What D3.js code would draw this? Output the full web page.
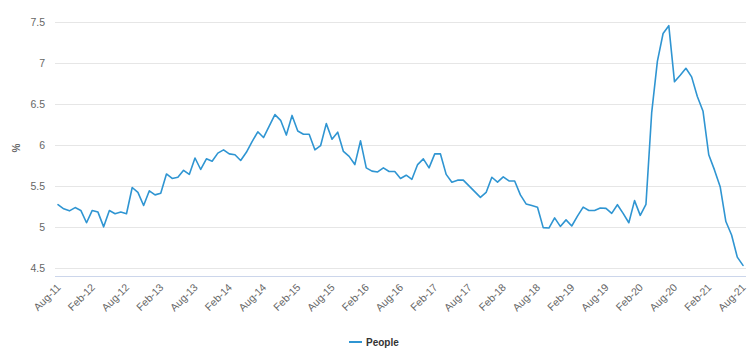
<!DOCTYPE html>
<html>
<head>
<meta charset="utf-8">
<script src="https://cdn.jsdelivr.net/npm/d3@7/dist/d3.min.js"></script>
<style>
  html, body { margin: 0; padding: 0; background: #fff; }
  svg { display: block; font-family: "Liberation Sans", Arial, Helvetica, sans-serif; }
</style>
</head>
<body>
<svg id="chart" width="754" height="360"></svg>
<script>
// ---- data ----
const seriesName = "People";
const startMonth = new Date(2011, 7, 1); // Aug-11
const values = [
  5.27, 5.22, 5.195, 5.235, 5.20, 5.05, 5.20, 5.18, 5.00, 5.20, 5.16, 5.18,
  5.16, 5.48, 5.42, 5.26, 5.44, 5.39, 5.41, 5.645, 5.59, 5.605, 5.69, 5.64,
  5.84, 5.70, 5.83, 5.80, 5.90, 5.94, 5.89, 5.88, 5.81, 5.91, 6.04, 6.16,
  6.09, 6.23, 6.37, 6.30, 6.12, 6.36, 6.17, 6.13, 6.13, 5.94, 5.99, 6.26,
  6.07, 6.155, 5.92, 5.86, 5.76, 6.05, 5.72, 5.68, 5.67, 5.72, 5.675, 5.675,
  5.59, 5.63, 5.58, 5.76, 5.83, 5.72, 5.89, 5.89, 5.64, 5.545, 5.57, 5.57,
  5.50, 5.43, 5.36, 5.42, 5.605, 5.545, 5.61, 5.56, 5.56, 5.39, 5.28, 5.26,
  5.24, 4.99, 4.985, 5.11, 5.005, 5.085, 5.01, 5.13, 5.24, 5.20, 5.20, 5.23,
  5.225, 5.165, 5.27, 5.165, 5.05, 5.32, 5.14, 5.275, 6.39, 7.02, 7.36, 7.455,
  6.77, 6.85, 6.935, 6.83, 6.59, 6.41, 5.88, 5.695, 5.49, 5.065, 4.90, 4.63,
  4.53
];
const categories = d3.timeMonth.range(startMonth, d3.timeMonth.offset(startMonth, values.length))
  .map(d3.timeFormat("%b-%y"));
const xTickLabels = ["Aug-11","Feb-12","Aug-12","Feb-13","Aug-13","Feb-14","Aug-14","Feb-15",
  "Aug-15","Feb-16","Aug-16","Feb-17","Aug-17","Feb-18","Aug-18","Feb-19","Aug-19","Feb-20",
  "Aug-20","Feb-21","Aug-21"];
const yTicks = [4.5, 5, 5.5, 6, 6.5, 7, 7.5];
const yTitle = "%";

// ---- layout ----
const plotLeft = 55, plotRight = 746, plotTop = 22, plotBottom = 276;
const lineColor = "#2f95d2";

const svg = d3.select("#chart");
const x = d3.scalePoint().domain(categories).range([58, 743]);
const y = d3.scaleLinear().domain([4.4, 7.5]).range([plotBottom, plotTop]);

// gridlines
svg.append("g").selectAll("line").data(yTicks).join("line")
  .attr("x1", plotLeft).attr("x2", plotRight)
  .attr("y1", d => Math.round(y(d)) + 0.5).attr("y2", d => Math.round(y(d)) + 0.5)
  .attr("stroke", "#e6e6e6").attr("stroke-width", 1);

// y axis labels
const yAxis = d3.axisLeft(y).tickValues(yTicks).tickSize(0).tickPadding(0)
  .tickFormat(d => d3.format("~g")(d));
svg.append("g").attr("transform", `translate(45,0)`).call(yAxis)
  .call(g => g.select(".domain").remove())
  .call(g => g.selectAll("text").attr("fill", "#666").attr("font-size", "10.5px")
    .attr("font-family", "Liberation Sans, Arial, sans-serif"));

// y title
svg.append("text")
  .attr("transform", `translate(20,148) rotate(-90)`)
  .attr("text-anchor", "middle")
  .attr("fill", "#666").attr("font-size", "10px").attr("font-weight", "bold")
  .text(yTitle);

// x axis line
svg.append("line")
  .attr("x1", plotLeft).attr("x2", plotRight)
  .attr("y1", plotBottom + 0.5).attr("y2", plotBottom + 0.5)
  .attr("stroke", "#ccd6eb").attr("stroke-width", 1);

// x axis labels
const xAxis = d3.axisBottom(x).tickValues(xTickLabels).tickSize(0).tickPadding(0);
const gx = svg.append("g").attr("transform", `translate(0,${plotBottom})`).call(xAxis);
gx.select(".domain").remove();
gx.selectAll("text")
  .attr("fill", "#666").attr("font-size", "10.5px")
  .attr("font-family", "Liberation Sans, Arial, sans-serif")
  .attr("text-anchor", "end")
  .attr("dy", null).attr("y", null)
  .attr("transform", "translate(3,12) rotate(-45)");

// line
const line = d3.line().x((d, i) => x(categories[i])).y(d => y(d));
svg.append("path").datum(values)
  .attr("d", line)
  .attr("fill", "none")
  .attr("stroke", lineColor)
  .attr("stroke-width", 1.6)
  .attr("stroke-linejoin", "round")
  .attr("stroke-linecap", "round");

// legend
const lg = svg.append("g").attr("transform", "translate(349,342)");
lg.append("line").attr("x1", 0).attr("x2", 13).attr("y1", 0).attr("y2", 0)
  .attr("stroke", lineColor).attr("stroke-width", 2);
lg.append("text").attr("x", 17).attr("y", 3.5)
  .attr("fill", "#333").attr("font-size", "10px").attr("font-weight", "bold")
  .text(seriesName);
</script>
</body>
</html>
